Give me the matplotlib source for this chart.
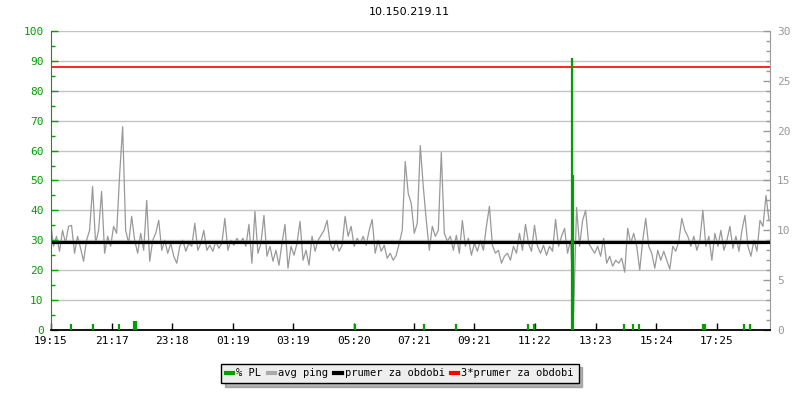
import numpy as np
import matplotlib
matplotlib.use("Agg")
import matplotlib.pyplot as plt
from matplotlib.lines import Line2D
from matplotlib.ticker import MultipleLocator

# ---------------- data ----------------
title = "10.150.219.11"
tick_labels = ["19:15", "21:17", "23:18", "01:19", "03:19", "05:20",
               "07:21", "09:21", "11:22", "13:23", "15:24", "17:25"]
tick_minutes = [0, 122, 243, 364, 484, 605, 726, 846, 967, 1088, 1209, 1330]
span_minutes = 1436
sample_step_min = 6

# avg ping in ms (right axis), one value every ~6 minutes
ping_ms = [
    10.9, 8.4, 9.4, 7.9, 10.0, 8.7, 10.4, 10.5, 7.7, 9.4,
    8.2, 6.9, 9.0, 10.0, 14.4, 8.7, 10.0, 13.9, 7.7, 9.4,
    8.4, 10.4, 9.7, 15.6, 20.4, 10.0, 8.7, 11.4, 9.0, 7.7,
    9.7, 8.0, 13.0, 6.9, 9.0, 9.7, 11.0, 8.0, 9.0, 7.7,
    8.7, 7.4, 6.7, 8.4, 9.0, 7.9, 8.7, 8.4, 10.7, 8.0,
    8.7, 10.0, 8.0, 8.5, 7.9, 8.9, 8.2, 8.7, 11.2, 8.0,
    9.0, 8.5, 9.2, 8.7, 9.2, 8.4, 10.6, 6.7, 11.9, 7.7,
    8.7, 11.5, 7.4, 8.4, 6.9, 8.0, 6.5, 8.7, 10.6, 6.2,
    8.4, 7.5, 8.7, 10.9, 7.0, 8.0, 6.5, 9.4, 7.9, 9.0,
    9.5, 10.0, 11.0, 8.7, 8.0, 9.0, 7.9, 8.5, 11.4, 9.4,
    10.4, 8.4, 9.2, 8.7, 9.4, 8.5, 10.0, 11.1, 7.7, 9.0,
    7.9, 8.5, 7.2, 7.7, 7.0, 7.5, 8.7, 10.0, 16.9, 13.7,
    12.7, 9.7, 10.7, 18.5, 14.4, 11.0, 8.0, 10.4, 9.4, 10.0,
    17.8, 9.7, 8.9, 9.4, 8.0, 9.5, 7.7, 11.0, 8.4, 9.2,
    7.5, 8.7, 7.9, 9.0, 8.0, 10.4, 12.4, 8.5, 7.7, 8.0,
    6.7, 7.4, 7.7, 7.0, 8.4, 7.7, 9.7, 8.0, 10.6, 8.7,
    7.9, 10.5, 8.4, 7.7, 8.5, 7.5, 8.4, 7.9, 11.1, 8.4,
    9.4, 10.2, 7.7, 9.0, 1.7, 12.3, 8.4, 11.0,
    12.0, 8.7, 8.2, 7.7, 8.4, 7.4, 9.2, 6.7, 7.4, 6.4,
    7.0, 6.7, 7.2, 5.8, 10.2, 8.7, 9.7, 8.4, 6.0, 9.0,
    11.2, 8.4, 7.7, 6.2, 8.0, 7.0, 7.9, 7.0, 6.1, 8.4,
    7.9, 8.9, 11.2, 10.0, 9.4, 8.4, 9.4, 8.0, 9.0, 12.0,
    8.4, 9.4, 7.0, 9.7, 8.4, 10.0, 8.0, 9.0, 10.4, 8.2,
    9.4, 7.9, 10.0, 11.5, 8.4, 7.4, 9.0, 7.9, 11.0, 10.4,
    13.5, 11.0,
]

# packet loss events (minutes after 19:15, percent)
pl_minutes = [40, 84, 136, 166, 170, 608, 746, 810, 953, 965,
              1041, 1043, 1145, 1163, 1175, 1302, 1306, 1384, 1396]
pl_pct = [2, 2, 2, 3, 3, 2, 2, 2, 2, 2,
          91, 52, 2, 2, 2, 2, 2, 2, 2]

prumer_ms = 8.8
prumer3_ms = 3 * prumer_ms

legend_labels = ["% PL", "avg ping", "prumer za obdobi", "3*prumer za obdobi"]

# ---------------- styles ----------------
GREEN = "#00a000"
GRAY = "#999999"
GRID = "#c4c4c4"
mono = "DejaVu Sans Mono"
plt.rcParams["font.family"] = mono

fig = plt.figure(figsize=(8, 4), dpi=100)
fig.patch.set_facecolor("white")
ax = fig.add_axes([50.5 / 800, 70 / 400, 719.5 / 800, 299 / 400])
ax2 = ax.twinx()

# ax (PL, left) drawn above ax2 (ping, right)
ax.set_zorder(2)
ax.patch.set_visible(False)
ax2.set_zorder(1)
ax2.patch.set_visible(False)

ax.set_xlim(0, span_minutes)
ax.set_ylim(0, 100)
ax2.set_ylim(0, 30)

# horizontal grid (left axis 10% steps), drawn on the ping axis underneath
for g in range(3, 31, 3):
    ax2.axhline(g, color=GRID, lw=1.0, zorder=0.2)

times = np.arange(len(ping_ms)) * sample_step_min
ax2.plot(times, ping_ms, color=GRAY, lw=0.9, zorder=2)
ax2.axhline(prumer_ms, color="black", lw=2.3, zorder=3)
ax2.axhline(prumer3_ms, color="#ff0000", lw=1.2, zorder=3)

ax.vlines(pl_minutes, 0, pl_pct, color=GREEN, lw=1.6, zorder=4)

# spines
for s in ["top", "right"]:
    ax.spines[s].set_visible(False)
ax.spines["left"].set_color(GREEN)
ax.spines["bottom"].set_color("black")
ax.spines["bottom"].set_linewidth(1.3)
for s in ["top", "left", "bottom"]:
    ax2.spines[s].set_visible(False)
ax2.spines["right"].set_color(GRAY)

# ticks
ax.set_xticks(tick_minutes)
ax.set_xticklabels(tick_labels)
ax.tick_params(axis="x", direction="in", length=5, width=1, colors="black",
               labelsize=8, pad=4)
ax.set_yticks(range(0, 101, 10))
ax.yaxis.set_minor_locator(MultipleLocator(5))
ax.tick_params(axis="y", which="major", direction="in", length=5, width=1,
               color=GREEN, labelcolor=GREEN, labelsize=8, pad=5)
ax.tick_params(axis="y", which="minor", direction="in", length=3, width=1,
               color=GREEN)

ax2.set_yticks(range(0, 31, 5))
ax2.yaxis.set_minor_locator(MultipleLocator(1))
ax2.tick_params(axis="y", which="major", direction="in", length=5, width=1,
                color=GRAY, labelcolor=GRAY, labelsize=8, pad=5)
ax2.tick_params(axis="y", which="minor", direction="in", length=3, width=1,
                color=GRAY)

fig.text(409 / 800, 1 - 12 / 400, title, ha="center", va="center",
         fontsize=8, family="DejaVu Sans")

handles = [
    Line2D([], [], color=GREEN, lw=3),
    Line2D([], [], color="#aaaaaa", lw=3),
    Line2D([], [], color="black", lw=3),
    Line2D([], [], color="#ff0000", lw=3),
]
leg = fig.legend(handles, legend_labels, loc="center",
                 bbox_to_anchor=(400 / 800, 1 - 373.5 / 400), ncol=4,
                 frameon=True, fancybox=False,
                 shadow={"ox": 2.5, "oy": -2.5, "shade": 0.55},
                 edgecolor="black", facecolor="#eeeeee", framealpha=1,
                 fontsize=7.5, handlelength=0.7, handletextpad=0.3,
                 columnspacing=0.6, borderpad=0.45, borderaxespad=0)
leg.get_frame().set_linewidth(1.0)

fig.savefig("out.png", dpi=100, facecolor="white")
